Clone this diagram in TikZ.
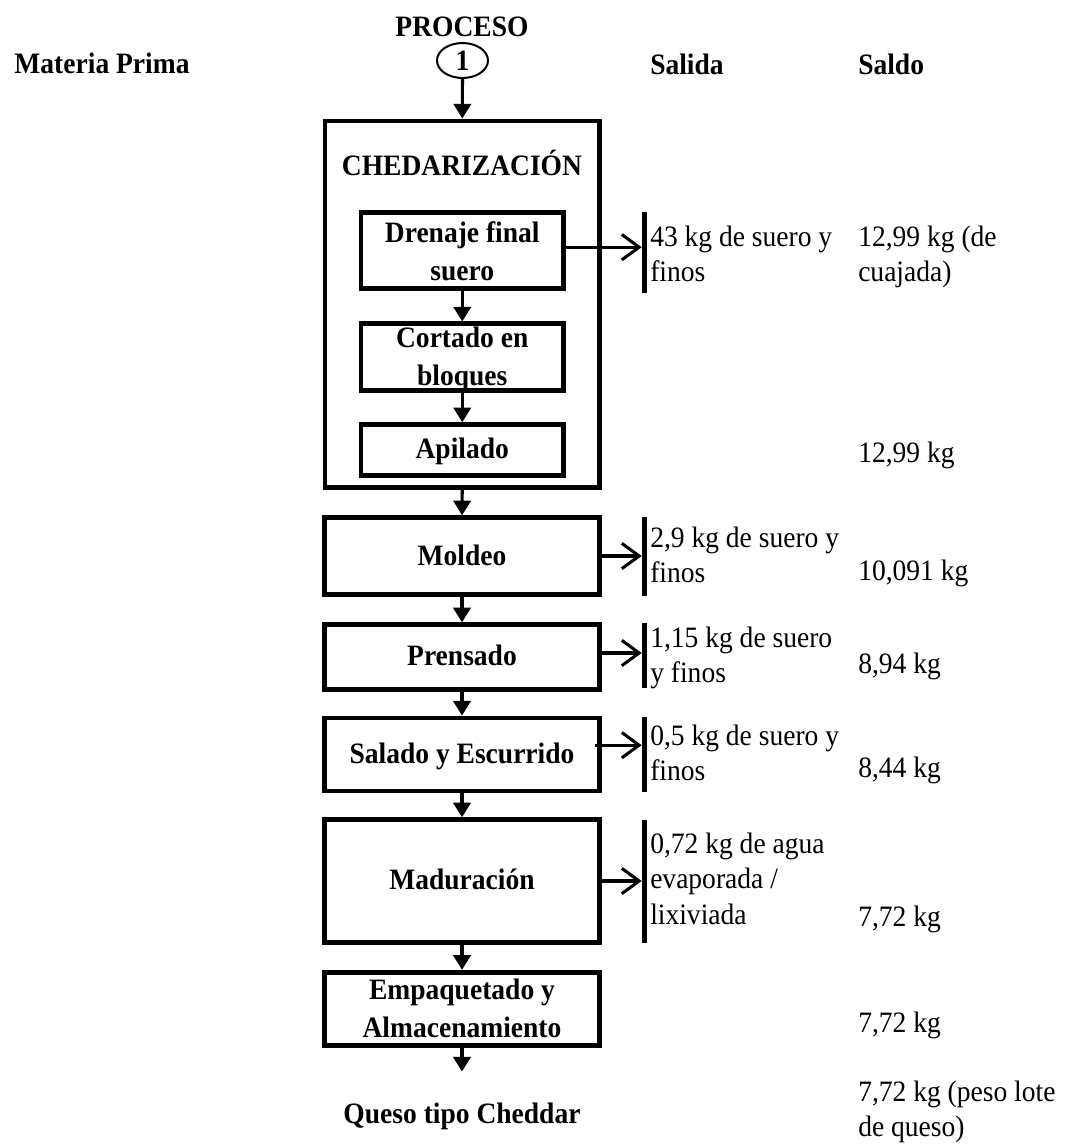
\documentclass[tikz,border=0pt]{standalone}
\usepackage{fontspec}
\setmainfont{Liberation Serif}[FakeStretch=0.93]
\usetikzlibrary{arrows.meta,shapes.geometric}

\begin{document}
\begin{tikzpicture}[x=0.75pt,y=-0.75pt,
  txt/.style={font=\fontsize{22.2}{26.6}\selectfont, inner sep=0pt},
  hdr/.style={font=\bfseries\fontsize{22.2}{28.5}\selectfont, inner sep=0pt},
  boxlabel/.style={hdr, anchor=north, align=center},
  sidetxt/.style={txt, anchor=north west, align=left},
  outerbox/.style={draw, line width=3.7pt, inner sep=0pt},
  mainbox/.style={draw, line width=3.7pt, inner sep=0pt, minimum width=206.25pt},
  innerbox/.style={draw, line width=3.4pt, inner sep=0pt, minimum width=151.9pt},
  outbar/.style={fill=black, inner sep=0pt, minimum width=3.75pt},
  flow/.style={line width=2.3pt, -{Triangle[length=11pt,width=13pt]}},
  outflow/.style={line width=2.3pt, -{Straight Barb[length=13pt,width=19pt,line width=2.3pt]}}]

\fill[white] (0,0) rectangle (1066,1147);
\useasboundingbox (0,0) rectangle (1066,1147);

% column headings
\node[hdr, anchor=base] (mp) at (102,73) {Materia Prima};
\node[hdr, anchor=base] (proc) at (462,36) {PROCESO};
\node[draw, ellipse, line width=1.5pt, minimum width=38.25pt, minimum height=26.25pt,
  inner sep=0pt, font=\bfseries\fontsize{22.2}{26}\selectfont] (circ) at (462.5,60.5) {1};
\node[hdr, anchor=base west] (sal) at (650,74) {Salida};
\node[hdr, anchor=base west] (sdo) at (858,74) {Saldo};

% cheddaring block with its three steps
\node[outerbox, minimum width=205.9pt, minimum height=274.9pt] (chedar) at (462.25,304.25) {};
\node[hdr, anchor=base] (chedtitle) at (462,175) {CHEDARIZACIÓN};
\node[innerbox, minimum height=57pt] (drenaje) at (462.25,250.5) {};
\node[innerbox, minimum height=49.9pt] (cortado) at (462.25,357) {};
\node[innerbox, minimum height=38.25pt] (apilado) at (462.25,450) {};
\node[boxlabel] (tdrenaje) at (462.25,215.4) {\strut Drenaje final\\suero};
\node[boxlabel] (tcortado) at (462.25,320.4) {\strut Cortado en\\bloques};
\node[hdr, anchor=base] (tapilado) at (462.25,458) {Apilado};

% main steps
\node[mainbox, minimum height=57.4pt] (moldeo) at (462,556) {};
\node[mainbox, minimum height=48.4pt] (prensado) at (462,657) {};
\node[mainbox, minimum height=54.75pt] (salado) at (462,754.5) {};
\node[mainbox, minimum height=91.9pt] (madur) at (462,881) {};
\node[mainbox, minimum height=55.1pt] (empaq) at (462,1009) {};
\node[hdr, anchor=base] (tmoldeo) at (462,565) {Moldeo};
\node[hdr, anchor=base] (tprensado) at (462,665) {Prensado};
\node[hdr, anchor=base] (tsalado) at (462,763) {Salado y Escurrido};
\node[hdr, anchor=base] (tmadur) at (462,889) {Maduración};
\node[boxlabel] (tempaq) at (462,972.4) {\strut Empaquetado y\\Almacenamiento};
\node[hdr, anchor=base] (queso) at (462,1123) {Queso tipo Cheddar};

% flow arrows
\draw[flow] (circ.south) -- (chedar.north);
\draw[flow] (drenaje.south) -- (cortado.north);
\draw[flow] (cortado.south) -- (apilado.north);
\draw[flow] (chedar.south) -- (moldeo.north);
\draw[flow] (moldeo.south) -- (prensado.north);
\draw[flow] (prensado.south) -- (salado.north);
\draw[flow] (salado.south) -- (madur.north);
\draw[flow] (madur.south) -- (empaq.north);
\draw[flow] (empaq.south) -- ([yshift=23pt]queso.north);

% output bars
\node[outbar, minimum height=60.75pt] (bar1) at (644.5,252.5) {};
\node[outbar, minimum height=59.25pt] (bar2) at (644.5,556.5) {};
\node[outbar, minimum height=48.75pt] (bar3) at (644.5,655.5) {};
\node[outbar, minimum height=56.25pt] (bar4) at (644.5,754.5) {};
\node[outbar, minimum height=92.25pt] (bar5) at (644.5,881.5) {};

% output arrows
\coordinate (o1) at ([yshift=2.5pt]drenaje.east);
\draw[outflow] (o1) -- (o1 -| bar1.west);
\draw[outflow] (moldeo.east) -- (moldeo.east -| bar2.west);
\coordinate (o3) at ([yshift=3pt]prensado.east);
\draw[outflow] (o3) -- (o3 -| bar3.west);
\coordinate (o4) at ([xshift=-5pt,yshift=7pt]salado.east);
\draw[outflow] (o4) -- (o4 -| bar4.west);
\coordinate (o5) at ([xshift=-3pt]madur.east);
\draw[outflow] (o5) -- (o5 -| bar5.west);

% outputs
\node[sidetxt] (s1) at (650,221.2) {\strut 43 kg de suero y\\finos};
\node[sidetxt] (s2) at (650,522.2) {\strut 2,9 kg de suero y\\finos};
\node[sidetxt] (s3) at (650,622.2) {\strut 1,15 kg de suero\\y finos};
\node[sidetxt] (s4) at (650,720.2) {\strut 0,5 kg de suero y\\finos};
\node[sidetxt] (s5) at (650,828.2) {\strut 0,72 kg de agua\\evaporada /\\lixiviada};

% balances
\node[sidetxt] (d1) at (858,221.2) {\strut 12,99 kg (de\\cuajada)};
\node[sidetxt] (d2) at (858,437.2) {\strut 12,99 kg};
\node[sidetxt] (d3) at (858,555.2) {\strut 10,091 kg};
\node[sidetxt] (d4) at (858,648.2) {\strut 8,94 kg};
\node[sidetxt] (d5) at (858,752.2) {\strut 8,44 kg};
\node[sidetxt] (d6) at (858,901.2) {\strut 7,72 kg};
\node[sidetxt] (d7) at (858,1007.2) {\strut 7,72 kg};
\node[sidetxt] (d8) at (858,1076.2) {\strut 7,72 kg (peso lote\\de queso)};
\end{tikzpicture}
\end{document}
